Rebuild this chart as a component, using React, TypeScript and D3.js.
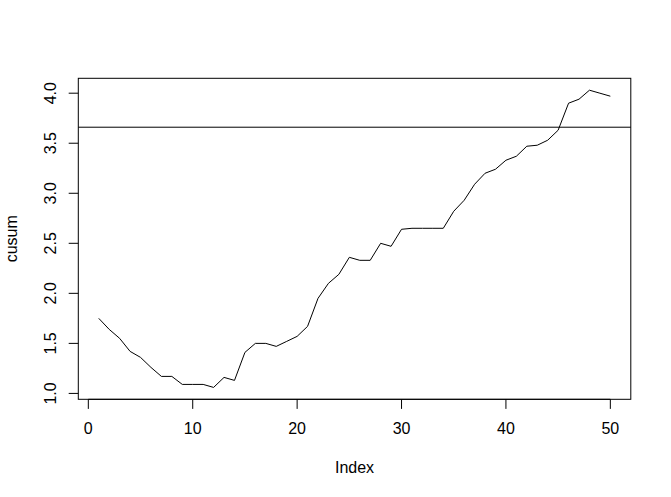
import React from "react";
import * as d3 from "d3";

const cusum: number[] = [
  1.75, 1.64, 1.55, 1.42, 1.36, 1.26, 1.17, 1.17, 1.09, 1.09,
  1.09, 1.06, 1.16, 1.13, 1.41, 1.50, 1.50, 1.47, 1.52, 1.57,
  1.67, 1.95, 2.10, 2.19, 2.36, 2.33, 2.33, 2.50, 2.47, 2.64,
  2.65, 2.65, 2.65, 2.65, 2.82, 2.93, 3.09, 3.20, 3.24, 3.33,
  3.37, 3.47, 3.48, 3.53, 3.63, 3.90, 3.94, 4.03, 4.00, 3.97,
];
const threshold = 3.66;
const xTicks = [0, 10, 20, 30, 40, 50];
const yTicks = [1.0, 1.5, 2.0, 2.5, 3.0, 3.5, 4.0];
const xLabel = "Index";
const yLabel = "cusum";

const W = 671, H = 497;
const L = 78.3, R = 630.8, T = 78.3, B = 399.3;

export default function App() {
  const n = cusum.length;
  const xr = n - 1;
  const x = d3.scaleLinear().domain([1 - 0.04 * xr, n + 0.04 * xr]).range([L, R]);
  const ymin = d3.min(cusum)!, ymax = d3.max(cusum)!;
  const yr = ymax - ymin;
  const y = d3.scaleLinear().domain([ymin - 0.04 * yr, ymax + 0.04 * yr]).range([B, T]);
  const line = d3.line<number>().x((_, i) => x(i + 1)).y((d) => y(d));
  const font = "Liberation Sans, Arial, sans-serif";
  return (
    <svg width={W} height={H} style={{ position: "absolute", left: 0, top: 0, background: "#fff" }}>
      <rect x={0} y={0} width={W} height={H} fill="#fff" />
      <path d={line(cusum) || ""} fill="none" stroke="#000" strokeWidth={1} />
      <line x1={L} x2={R} y1={y(threshold)} y2={y(threshold)} stroke="#000" strokeWidth={1} />
      <rect x={L} y={T} width={R - L} height={B - T} fill="none" stroke="#000" strokeWidth={1} />
      {/* x axis */}
      <line x1={x(xTicks[0])} x2={x(xTicks[xTicks.length - 1])} y1={B} y2={B} stroke="#000" />
      {xTicks.map((t) => (
        <g key={"x" + t}>
          <line x1={x(t)} x2={x(t)} y1={B} y2={B + 9.6} stroke="#000" />
          <text x={x(t)} y={434.3} textAnchor="middle" fontFamily={font} fontSize={16} fill="#000">
            {t}
          </text>
        </g>
      ))}
      {/* y axis */}
      {yTicks.map((t) => (
        <g key={"y" + t}>
          <line x1={L - 9.6} x2={L} y1={y(t)} y2={y(t)} stroke="#000" />
          <text
            transform={`translate(55.5,${y(t)}) rotate(-90)`}
            textAnchor="middle"
            fontFamily={font}
            fontSize={16}
            fill="#000"
          >
            {t.toFixed(1)}
          </text>
        </g>
      ))}
      <text x={(L + R) / 2} y={472.7} textAnchor="middle" fontFamily={font} fontSize={16} fill="#000">
        {xLabel}
      </text>
      <text
        transform={`translate(17.1,${(T + B) / 2}) rotate(-90)`}
        textAnchor="middle"
        fontFamily={font}
        fontSize={16}
        fill="#000"
      >
        {yLabel}
      </text>
    </svg>
  );
}
